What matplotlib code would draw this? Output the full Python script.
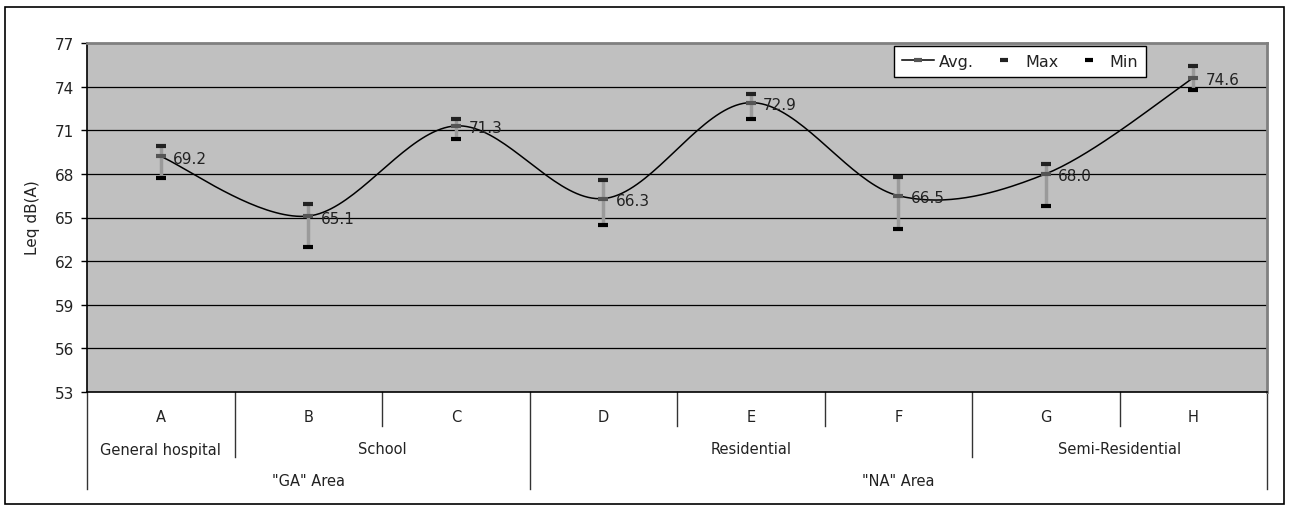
import numpy as np
import matplotlib
matplotlib.use("Agg")
import matplotlib.pyplot as plt
from matplotlib.lines import Line2D
from matplotlib.patches import Rectangle
from matplotlib.transforms import blended_transform_factory

# ---- data ----
categories = ["A", "B", "C", "D", "E", "F", "G", "H"]
avg_vals = [69.2, 65.1, 71.3, 66.3, 72.9, 66.5, 68.0, 74.6]
max_vals = [69.9, 65.9, 71.8, 67.6, 73.5, 67.8, 68.7, 75.4]
min_vals = [67.7, 63.0, 70.4, 64.5, 71.8, 64.2, 65.8, 73.8]
level2_groups = [("General hospital", 0, 1), ("School", 1, 3),
                 ("Residential", 3, 6), ("Semi-Residential", 6, 8)]
level3_groups = [('"GA" Area', 0, 3), ('"NA" Area', 3, 8)]
y_ticks = [53, 56, 59, 62, 65, 68, 71, 74, 77]

W, H = 1289, 510
fig = plt.figure(figsize=(W / 100, H / 100), dpi=100)
plt.rcParams['font.family'] = ['DejaVu Sans']

# figure border
fig.patches.append(Rectangle((5 / W, 1 - 505 / H), 1279 / W, 497 / H,
                             transform=fig.transFigure, fill=False,
                             edgecolor='black', linewidth=1.2))

left, right, top, bottom = 87, 1267, 44, 393
ax = fig.add_axes([left / W, 1 - bottom / H, (right - left) / W, (bottom - top) / H])
ax.set_facecolor('#C0C0C0')
ax.set_xlim(-0.5, len(categories) - 0.5)
ax.set_ylim(y_ticks[0], y_ticks[-1])
ax.set_yticks(y_ticks)
ax.tick_params(axis='y', direction='out', length=4, width=1, labelsize=11, pad=5,
               labelcolor='#222222')
ax.set_xticks([])
for y in y_ticks[1:-1]:
    ax.axhline(y, color='black', linewidth=0.9, zorder=1)
ax.spines['left'].set_color('black')
ax.spines['bottom'].set_color('black')
ax.spines['left'].set_linewidth(1.2)
ax.spines['bottom'].set_linewidth(1.2)
for s in ('top', 'right'):
    ax.spines[s].set_color('#808080')
    ax.spines[s].set_linewidth(2)

# smoothed line (Bezier through the points)
x = np.arange(len(categories), dtype=float)
yv = np.array(avg_vals)
pts = np.column_stack([x, yv])
curve = []
t = np.linspace(0, 1, 40)
for i in range(len(pts) - 1):
    p0 = pts[i - 1] if i > 0 else pts[i]
    p1 = pts[i]
    p2 = pts[i + 1]
    p3 = pts[i + 2] if i + 2 < len(pts) else pts[i + 1]
    c1 = p1 + (p2 - p0) / 6.0
    c2 = p2 - (p3 - p1) / 6.0
    seg = ((1 - t) ** 3)[:, None] * p1 + (3 * (1 - t) ** 2 * t)[:, None] * c1 \
        + (3 * (1 - t) * t ** 2)[:, None] * c2 + (t ** 3)[:, None] * p2
    curve.append(seg)
curve = np.vstack(curve)
ax.plot(curve[:, 0], curve[:, 1], color='black', linewidth=1.1, zorder=3)

# error bars
ax.vlines(x, min_vals, max_vals, color='#9A9A9A', linewidth=2.5, zorder=4)
ax.plot(x, max_vals, linestyle='none', marker='_', markersize=7,
        markeredgewidth=3.0, color='#222222', zorder=5)
ax.plot(x, min_vals, linestyle='none', marker='_', markersize=7,
        markeredgewidth=3.0, color='black', zorder=5)
ax.plot(x, avg_vals, linestyle='none', marker='_', markersize=7,
        markeredgewidth=3.0, color='#555555', zorder=5)

for xi, yi in zip(x, avg_vals):
    ax.annotate(f"{yi:.1f}", (xi, yi), xytext=(9, -1.5), textcoords='offset points',
                ha='left', va='center', fontsize=11, color='#222222', zorder=6)

# legend
handles = [
    Line2D([0], [0], color='black', linewidth=1.1, marker='_', markersize=6,
           markeredgewidth=3, markeredgecolor='#555555'),
    Line2D([0], [0], linestyle='none', marker='_', markersize=6,
           markeredgewidth=3, color='#222222'),
    Line2D([0], [0], linestyle='none', marker='_', markersize=6,
           markeredgewidth=3, color='black'),
]
leg = ax.legend(handles, ["Avg.", "Max", "Min"], ncol=3, loc='upper right',
                bbox_to_anchor=((1146 - left) / (right - left), (bottom - 47) / (bottom - top)),
                borderaxespad=0, fancybox=False, framealpha=1, edgecolor='black',
                fontsize=11.5, handlelength=2.0, handletextpad=0.3, columnspacing=0.9,
                borderpad=0.5)
leg.get_frame().set_linewidth(1.0)
for txt in leg.get_texts():
    txt.set_color('#222222')

# hierarchical category axis
trans = blended_transform_factory(ax.transData, ax.transAxes)
ah = bottom - top
def yfrac(py):
    return (bottom - py) / ah

row_y = [yfrac(418), yfrac(450), yfrac(482)]
sep_y = [yfrac(427), yfrac(458), yfrac(490)]

for i, c in enumerate(categories):
    ax.text(i, row_y[0], c, transform=trans, ha='center', va='center',
            fontsize=10.5, color='#222222', clip_on=False)
for name, a, b in level2_groups:
    ax.text((a + b - 1) / 2, row_y[1], name, transform=trans, ha='center', va='center',
            fontsize=10.5, color='#222222', clip_on=False)
for name, a, b in level3_groups:
    ax.text((a + b - 1) / 2, row_y[2], name, transform=trans, ha='center', va='center',
            fontsize=10.5, color='#222222', clip_on=False)

b3 = {a for _, a, _ in level3_groups} | {b for _, _, b in level3_groups}
b2 = {a for _, a, _ in level2_groups} | {b for _, _, b in level2_groups}
for bnd in range(len(categories) + 1):
    if bnd in b3:
        yl = sep_y[2]
    elif bnd in b2:
        yl = sep_y[1]
    else:
        yl = sep_y[0]
    ax.plot([bnd - 0.5, bnd - 0.5], [0, yl], transform=trans, color='#333333',
            linewidth=1, clip_on=False)

fig.text(33 / W, 1 - 218 / H, "Leq dB(A)", rotation=90, ha='center', va='center',
         fontsize=11, color='#222222')

fig.savefig("out.png", dpi=100)
